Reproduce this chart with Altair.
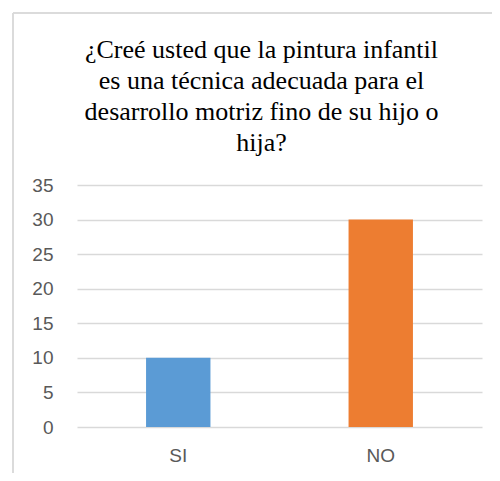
import altair as alt
import pandas as pd

categories = ["SI", "NO"]
values = [10, 30]
colors = ["#5B9BD5", "#ED7D31"]
y_ticks = [0, 5, 10, 15, 20, 25, 30, 35]
title_lines = ["¿Creé usted que la pintura infantil",
               "es una técnica adecuada para el",
               "desarrollo motriz fino de su hijo o",
               "hija?"]

df = pd.DataFrame({"cat": categories, "val": values, "color": colors})

bars = alt.Chart(df).mark_bar(width=alt.RelativeBandSize(0.318)).encode(
    x=alt.X("cat:N", sort=categories,
            scale=alt.Scale(paddingInner=0, paddingOuter=0),
            axis=alt.Axis(title=None, labelAngle=0, domain=False, ticks=False,
                          labelPadding=19, labelFont="Liberation Sans",
                          labelFontSize=19, labelColor="#595959")),
    y=alt.Y("val:Q", scale=alt.Scale(domain=[0, 35], nice=False),
            axis=alt.Axis(title=None, values=y_ticks, domain=False, ticks=False,
                          labelPadding=24, labelFont="Liberation Sans",
                          labelFontSize=19, labelColor="#595959",
                          gridColor="#d9d9d9", gridWidth=1.3)),
    color=alt.Color("color:N", scale=None),
)

border_left = alt.Chart(df).mark_rule(color="#d9d9d9", strokeWidth=1.5, clip=False).encode(
    x=alt.value(-64), y=alt.value(-172), y2=alt.value(300))
border_top = alt.Chart(df).mark_rule(color="#d9d9d9", strokeWidth=1.5, clip=False).encode(
    x=alt.value(-64), x2=alt.value(420), y=alt.value(-172))

chart = alt.layer(border_left, border_top, bars).properties(
    width=405, height=242,
    autosize=alt.AutoSizeParams(type="none"),
    padding={"left": 69, "top": 177, "right": 10, "bottom": 46},
    title=alt.TitleParams(title_lines, anchor="middle", frame="group",
                          font="Times New Roman, Liberation Serif, serif",
                          fontSize=26, fontWeight="normal",
                          color="#000000", lineHeight=31, baseline="alphabetic",
                          offset=-165, dx=-18),
).configure_view(stroke=None)

chart.save("out.html", embed_options={"renderer": "svg", "actions": False})
